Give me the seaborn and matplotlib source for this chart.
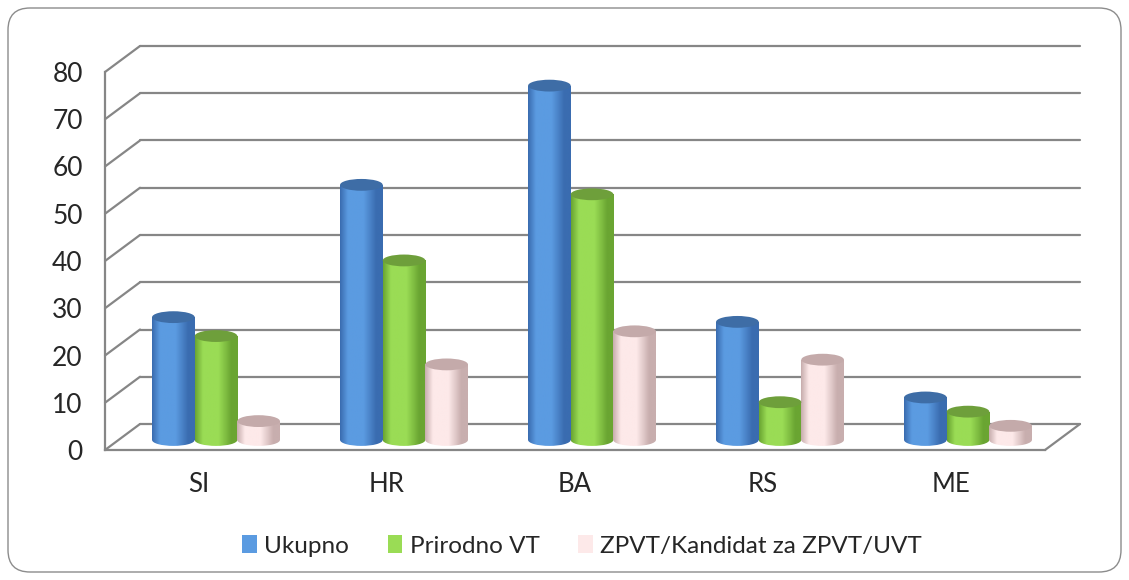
import numpy as np
import pandas as pd
import matplotlib
matplotlib.use("Agg")
import matplotlib.pyplot as plt
import seaborn as sns
from matplotlib.patches import Ellipse, Patch, ConnectionPatch, FancyBboxPatch
from matplotlib.colors import LinearSegmentedColormap

# Podaci
zemlje = ["SI", "HR", "BA", "RS", "ME"]
serije = ["Ukupno", "Prirodno VT", "ZPVT/Kandidat za ZPVT/UVT"]
ukupno = [26, 54, 75, 25, 9]
prirodno = [22, 38, 52, 8, 6]
zpvt = [4, 16, 23, 17, 3]
y_ticks = [0, 10, 20, 30, 40, 50, 60, 70, 80]

# Boje: tijelo, rub, poklopac
boje = {
    "Ukupno": ("#5B9BE1", "#3A6CB0", "#3E6DA6"),
    "Prirodno VT": ("#9ADC55", "#6AA532", "#6E9F3B"),
    "ZPVT/Kandidat za ZPVT/UVT": ("#FDE9E9", "#C8AEAE", "#C4AAAA"),
}

df = pd.DataFrame({
    "zemlja": zemlje * 3,
    "serija": [s for s in serije for _ in zemlje],
    "vrijednost": ukupno + prirodno + zpvt,
})

sns.set_style("white")
plt.rcParams["font.family"] = ["Lato", "DejaVu Sans"]
SIVA = "#868686"

W, H = 1129, 580
X0, X1, Y0, Y80 = 105, 1045, 450, 72
SKALA = (Y0 - Y80) / 80


def pozicija(dx, dy, vmin=0):
    dno = (Y0 - dy) - vmin * SKALA
    return [(X0 + dx) / W, (H - dno) / H, (X1 - X0) / W, (80 - vmin) * SKALA / H]


fig = plt.figure(figsize=(W / 100, H / 100), dpi=100, facecolor="white")

# okvir grafikona
fig.add_artist(FancyBboxPatch((0.08, 0.08), W / 100 - 0.16, H / 100 - 0.16,
                              boxstyle="round,pad=0,rounding_size=0.22",
                              transform=fig.dpi_scale_trans, fill=False,
                              edgecolor="#8C8C8C", lw=1.0))

# stražnji zid s mrežom
ax_back = fig.add_axes(pozicija(35, 26), zorder=0)
ax_back.set_ylim(0, 80)
ax_back.set_xlim(0, 1)
ax_back.set_axis_off()
for v in y_ticks:
    ax_back.axhline(v, color=SIVA, lw=1.6, clip_on=False)

# prednja os
ax = fig.add_axes(pozicija(0, 0), zorder=1)
ax.patch.set_alpha(0)
ax.set_xlim(-0.5, 4.5)
ax.set_ylim(0, 80)
for s in ["top", "right"]:
    ax.spines[s].set_visible(False)
for s in ["left", "bottom"]:
    ax.spines[s].set_color(SIVA)
    ax.spines[s].set_linewidth(1.6)
ax.set_yticks(y_ticks)
ax.tick_params(axis="y", length=5, width=1.6, color=SIVA, pad=11, labelsize=19)
ax.set_xticks(range(len(zemlje)))
ax.set_xticklabels(zemlje)
ax.set_xticks(np.arange(-0.5, 5, 1), minor=True)
ax.tick_params(axis="x", which="major", length=0, pad=16, labelsize=18.5)
ax.tick_params(axis="x", which="minor", length=5, width=1.6, color=SIVA)

# dijagonale bočnog zida i poda
for v in y_ticks:
    fig.add_artist(ConnectionPatch((0, v), (0, v),
                                   coordsA=ax.get_yaxis_transform(),
                                   coordsB=ax_back.get_yaxis_transform(),
                                   color=SIVA, lw=1.6))
fig.add_artist(ConnectionPatch((1, 0), (1, 0), coordsA=ax.transAxes,
                               coordsB=ax_back.transAxes, color=SIVA, lw=1.6))

# stupci (valjci)
ax_bars = fig.add_axes(pozicija(17, 10, -5), zorder=2)
ax_bars.patch.set_alpha(0)
sns.barplot(data=df, x="zemlja", y="vrijednost", hue="serija", order=zemlje,
            hue_order=serije, palette=[boje[s][0] for s in serije],
            width=0.68, saturation=1, legend=False, ax=ax_bars)

kapa = 2.5
for cont, s in zip(ax_bars.containers, serije):
    tijelo, rub, poklopac = boje[s]
    cmap = LinearSegmentedColormap.from_list(
        s, [(0, rub), (0.18, tijelo), (0.55, tijelo), (0.85, rub), (1, rub)])
    grad = np.linspace(0, 1, 64).reshape(1, -1)
    for bar in cont:
        x, w, h = bar.get_x(), bar.get_width(), bar.get_height()
        bar.set_facecolor("none")
        bar.set_edgecolor("none")
        dno = Ellipse((x + w / 2, 0), w, kapa, facecolor="none", edgecolor="none")
        ax_bars.add_patch(dno)
        for clip in (bar, dno):
            im = ax_bars.imshow(grad, cmap=cmap, aspect="auto", zorder=2,
                                extent=[x, x + w, -kapa, h], interpolation="bilinear")
            im.set_clip_path(clip)
        ax_bars.add_patch(Ellipse((x + w / 2, h), w, kapa, facecolor=poklopac,
                                  edgecolor="none", zorder=3))

ax_bars.set_xlim(-0.5, 4.5)
ax_bars.set_ylim(-5, 80)
ax_bars.set_axis_off()

# legenda
rucke = [Patch(facecolor=boje[s][0], edgecolor="none") for s in serije]
fig.legend(rucke, serije, loc="center", bbox_to_anchor=(582 / W, 1 - 546 / H),
           ncol=3, frameon=False, fontsize=17.5, handlelength=0.6, handleheight=0.75,
           handletextpad=0.3, columnspacing=1.6)

fig.savefig("out.png", dpi=100, facecolor="white")
